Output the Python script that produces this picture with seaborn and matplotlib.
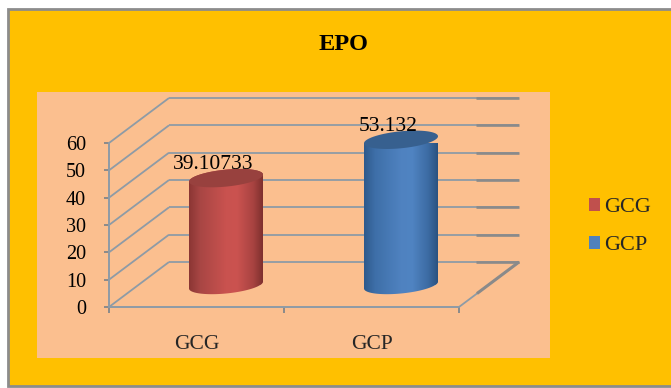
import numpy as np
import pandas as pd
import matplotlib
matplotlib.use("Agg")
import matplotlib.pyplot as plt
import matplotlib.colors as mc
from matplotlib.lines import Line2D
from matplotlib.patches import Patch, PathPatch, Rectangle
from matplotlib.path import Path
from matplotlib.transforms import Affine2D, IdentityTransform
import seaborn as sns

# ---- data ----
categories = ["GCG", "GCP"]
values = [39.10733, 53.132]
value_labels = ["39.10733", "53.132"]
y_ticks = [0, 10, 20, 30, 40, 50, 60]
title = "EPO"

# ---- style ----
W, H = 671, 388
GOLD, PANEL, GRID, DARK = "#FFC000", "#FBBF8F", "#8E9BA6", "#8A8A8A"
bar_colors = ["#C0504D", "#4F81BD"]
cap_colors = ["#98413E", "#37608F"]
edge_colors = [["#8B3634", "#A84644", "#C9524F", "#CB5350", "#A84341", "#7E302E"],
               ["#2E5A8C", "#3E6FA8", "#4F82C0", "#5084C2", "#3C6BA3", "#2A5280"]]
DEPTH_X, DEPTH_Y = 60, 45          # wall depth in px
BAR_SHIFT_X, BAR_SHIFT_Y = 29.5, 22  # bars stand mid-depth
A, B, TILT = 37, 8.5, 3.5          # ellipse half axes and skew in px

sns.set_style("white")
plt.rcParams["font.family"] = ["Liberation Serif", "DejaVu Serif"]

fig = plt.figure(figsize=(W / 100, H / 100), dpi=100, facecolor="white")
PX = Affine2D().scale(1, -1).translate(0, H)

# outer frame and inner panel
fig.add_artist(Rectangle((8, 9), W + 10, 377, transform=PX, facecolor=GOLD,
                         edgecolor="#8C8C8C", linewidth=2, zorder=-3))
fig.add_artist(Rectangle((37, 92), 513, 266, transform=PX, facecolor=PANEL,
                         edgecolor="none", zorder=-2))

ax = fig.add_axes([109 / W, (H - 307) / H, 350 / W, 164 / H])
ax.patch.set_alpha(0)

df = pd.DataFrame({"group": categories, "value": values})
sns.barplot(data=df, x="group", y="value", hue="group", palette=bar_colors,
            saturation=1, width=74 / 175, legend=False, ax=ax, zorder=3)
ax.set_xlim(-0.5, len(categories) - 0.5)
ax.set_ylim(0, y_ticks[-1])
ax.autoscale(False)
ax.set_xlabel("")
ax.set_ylabel("")

# axes furniture
ax.set_yticks(y_ticks)
ax.set_yticklabels([str(v) for v in y_ticks], fontsize=14.5, color="black")
ax.tick_params(axis="y", length=3.6, width=1.4, color=DARK, pad=13, left=True)
ax.set_xticks(np.arange(len(categories) + 1) - 0.5)
ax.set_xticklabels([])
ax.tick_params(axis="x", which="major", length=4.5, width=1.4, color=DARK, bottom=True)
ax.set_xticks(range(len(categories)), minor=True)
ax.set_xticklabels(categories, minor=True, fontsize=15.5)
ax.tick_params(axis="x", which="minor", length=0, pad=20)
sns.despine(ax=ax, top=True, right=True)
for s in ("left", "bottom"):
    ax.spines[s].set_color(GRID)
    ax.spines[s].set_linewidth(1.4)

fig.canvas.draw()
to_disp = ax.transData.transform
ID = IdentityTransform()


def seg(p, q, color=GRID, lw=1.3, z=1):
    ax.add_line(Line2D([p[0], q[0]], [p[1], q[1]], transform=ID, color=color,
                       lw=lw, clip_on=False, zorder=z, solid_capstyle="butt"))


x_lo, x_hi = ax.get_xlim()
for v in y_ticks:
    front_l = to_disp((x_lo, v))
    back_l = front_l + (DEPTH_X, DEPTH_Y)
    back_r = to_disp((x_hi, v)) + (DEPTH_X, DEPTH_Y)
    seg(front_l, back_l)
    seg(back_l, back_r)
    seg(back_r - (43, 0), back_r, color=DARK, lw=1.9, z=2)

# floor's right edge
fr = to_disp((x_hi, 0))
br = fr + (DEPTH_X, DEPTH_Y)
seg(fr, br)
seg(fr + (0.3 * DEPTH_X, 0.3 * DEPTH_Y), br, color=DARK, lw=2.2, z=2)


def ell(c, t):
    return np.column_stack([c[0] + A * np.cos(t),
                            c[1] + TILT * np.cos(t) + B * np.sin(t)])


# bars: the seaborn rectangles moved to mid-depth, dressed as cylinders
shift = ax.transData + Affine2D().translate(BAR_SHIFT_X, BAR_SHIFT_Y)
for i, (rect, val, lab) in enumerate(zip(list(ax.patches), values, value_labels)):
    rect.set_transform(shift)
    xc = rect.get_x() + rect.get_width() / 2
    base = shift.transform((xc, 0))
    top = shift.transform((xc, rect.get_height()))
    # display y points up: lower arc of base + upper arc of top
    lower = ell(base, np.linspace(np.pi, 2 * np.pi, 60))
    upper = ell(top, np.linspace(0, np.pi, 60))
    body = Path(np.vstack([lower, upper, lower[:1]]), closed=True)
    rect.set_clip_path(body, ID)
    rgb = np.array([mc.to_rgb(c) for c in edge_colors[i]])
    stops = [0, 0.15, 0.5, 0.65, 0.87, 1]
    xs = np.linspace(0, 1, 200)
    grad = np.stack([np.interp(xs, stops, rgb[:, k]) for k in range(3)], axis=-1)[None, :, :]
    im = ax.imshow(grad, extent=(base[0] - A, base[0] + A, base[1] - 12, top[1] + 12),
                   transform=ID, aspect="auto", zorder=4, interpolation="bilinear")
    im.set_clip_path(body, ID)
    cap = Path(ell(top, np.linspace(0, 2 * np.pi, 120)), closed=True)
    ax.add_patch(PathPatch(cap, transform=ID, facecolor=cap_colors[i],
                           edgecolor="none", zorder=5, clip_on=False))
    ax.annotate(lab, xy=top, xycoords=ID, xytext=(-9.5, 9.7), textcoords="offset points",
                ha="center", va="center", fontsize=15.5, color="black",
                zorder=6, annotation_clip=False)

ax.set_xlim(x_lo, x_hi)
ax.set_ylim(0, y_ticks[-1])

# title and legend
fig.text(343 / W, (H - 45) / H, title, ha="center", va="center",
         fontsize=17.5, fontweight="bold", color="black")
handles = [Patch(facecolor=c, edgecolor="none", label=n) for c, n in zip(bar_colors, categories)]
fig.legend(handles=handles, loc="center left", bbox_to_anchor=(571 / W, (H - 226.5) / H),
           frameon=False, fontsize=16, handlelength=0.5, handleheight=0.5,
           handletextpad=0.18, labelspacing=0.85, borderpad=0.3)

fig.savefig("out.png", dpi=100, facecolor=fig.get_facecolor())
